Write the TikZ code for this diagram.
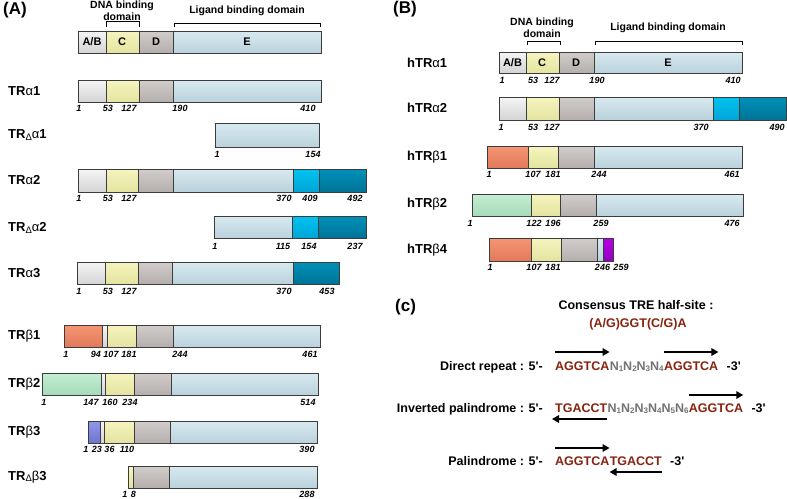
\documentclass[tikz,border=0pt]{standalone}
\usepackage{fontspec}
\setmainfont{Liberation Sans}
\usetikzlibrary{arrows.meta}
\definecolor{seqred}{RGB}{135,35,15}
\definecolor{edgec}{RGB}{60,60,60}
\newcommand\bseg[5]{\draw[#1] (#2,#4) rectangle (#3,#5);}
\newcommand\nlab[3]{\node[numlab] at (#1,#2) {#3};}
\newcommand\gr[1]{{\mdseries #1}}
\newcommand\dl{\raisebox{-1.2pt}{\fontsize{9.5}{9.5}\selectfont\mdseries Δ}}
\newcommand\nn[1]{N\raisebox{-1.6pt}{\fontsize{8}{8}\selectfont #1}}
\begin{document}
\begin{tikzpicture}[x=1pt,y=-1pt,
  sg/.style={draw=edgec, line width=0.65pt},
  cAB/.style={sg, top color={rgb,255:red,245;green,245;blue,245}, bottom color={rgb,255:red,212;green,212;blue,212}},
  cC/.style={sg, top color={rgb,255:red,244;green,244;blue,190}, bottom color={rgb,255:red,228;green,228;blue,160}},
  cD/.style={sg, top color={rgb,255:red,210;green,204;blue,202}, bottom color={rgb,255:red,180;green,174;blue,172}},
  cE/.style={sg, top color={rgb,255:red,216;green,233;blue,240}, bottom color={rgb,255:red,186;green,210;blue,220}},
  cCy/.style={sg, top color={rgb,255:red,0;green,195;blue,240}, bottom color={rgb,255:red,0;green,165;blue,215}},
  cTe/.style={sg, top color={rgb,255:red,0;green,145;blue,185}, bottom color={rgb,255:red,0;green,115;blue,150}},
  cSa/.style={sg, top color={rgb,255:red,245;green,150;blue,115}, bottom color={rgb,255:red,225;green,120;blue,90}},
  cGr/.style={sg, top color={rgb,255:red,195;green,238;blue,210}, bottom color={rgb,255:red,165;green,218;blue,185}},
  cVi/.style={sg, top color={rgb,255:red,145;green,150;blue,235}, bottom color={rgb,255:red,110;green,118;blue,210}},
  cPu/.style={sg, top color={rgb,255:red,185;green,0;blue,230}, bottom color={rgb,255:red,145;green,0;blue,195}},
  numlab/.style={inner sep=0, font=\fontsize{9}{10}\selectfont\bfseries\itshape},
  isolab/.style={inner sep=0, anchor=west, font=\fontsize{13}{15}\selectfont\bfseries},
  seglab/.style={inner sep=0, font=\fontsize{11}{12}\selectfont\bfseries},
  domlab/.style={inner sep=0, align=center, font=\fontsize{10.5}{11.5}\selectfont\bfseries},
  panlab/.style={inner sep=0, anchor=west, font=\fontsize{17}{18}\selectfont\bfseries},
  brk/.style={line width=0.8pt, draw=black},
  txt/.style={inner sep=0, font=\fontsize{12.5}{14}\selectfont\bfseries},
  seq/.style={inner sep=0, anchor=base west, font=\fontsize{12.5}{14}\selectfont\bfseries, text=seqred},
  nseq/.style={inner sep=0, anchor=base west, font=\fontsize{12.5}{14}\selectfont\bfseries, text=black!55},
  arr/.style={line width=1.7pt, -{Triangle[length=7pt,width=7.5pt]}}
]
\useasboundingbox (0,0) rectangle (787,498);
\fill[white] (0,0) rectangle (787,498);

% ================= Panel A =================
\node[panlab] (pA) at (3,10) {(A)};
\node[domlab] (dnaA) at (122,10.5) {DNA binding\\domain};
\node[domlab] (lbdA) at (247,11) {Ligand binding domain};
\draw[brk] (106,27) -- (106,21) -- (139,21) -- (139,27);
\draw[brk] (174,27) -- (174,23) -- (320,23) -- (320,27);

% header
\bseg{cAB}{78}{106}{31}{53}\bseg{cC}{106}{139}{31}{53}\bseg{cD}{139}{173}{31}{53}\bseg{cE}{173}{321}{31}{53}
\node[seglab] (hAB) at (92,42) {A/B};
\node[seglab] (hC) at (122,42) {C};
\node[seglab] (hD) at (156,42) {D};
\node[seglab] (hE) at (247,42) {E};

% TRa1
\node[isolab] (ta1) at (8,91) {TR\gr{α}1};
\bseg{cAB}{78}{106}{80}{102}\bseg{cC}{106}{139}{80}{102}\bseg{cD}{139}{173}{80}{102}\bseg{cE}{173}{321}{80}{102}
\nlab{79}{108}{1}\nlab{108}{108}{53}\nlab{129}{108}{127}\nlab{180}{108}{190}\nlab{308}{108}{410}

% TRDa1
\node[isolab] (tda1) at (8,135) {TR\dl\gr{α}1};
\bseg{cE}{215}{319}{123}{147}
\nlab{217}{154.5}{1}\nlab{313}{154.5}{154}

% TRa2
\node[isolab] (ta2) at (8,180) {TR\gr{α}2};
\bseg{cAB}{78}{106}{169}{192}\bseg{cC}{106}{138}{169}{192}\bseg{cD}{138}{173}{169}{192}\bseg{cE}{173}{293}{169}{192}\bseg{cCy}{293}{319}{169}{192}\bseg{cTe}{319}{366}{169}{192}
\nlab{79}{198}{1}\nlab{108}{198}{53}\nlab{129}{198}{127}\nlab{284}{198}{370}\nlab{310}{198}{409}\nlab{355}{198}{492}

% TRDa2
\node[isolab] (tda2) at (8,228) {TR\dl\gr{α}2};
\bseg{cE}{214}{292}{216}{238}\bseg{cCy}{292}{318}{216}{238}\bseg{cTe}{318}{366}{216}{238}
\nlab{215}{246}{1}\nlab{283}{246}{115}\nlab{309}{246}{154}\nlab{355}{246}{237}

% TRa3
\node[isolab] (ta3) at (8,273) {TR\gr{α}3};
\bseg{cAB}{77}{105}{262}{284}\bseg{cC}{105}{138}{262}{284}\bseg{cD}{138}{172}{262}{284}\bseg{cE}{172}{293}{262}{284}\bseg{cTe}{293}{339}{262}{284}
\nlab{79}{291}{1}\nlab{108}{291}{53}\nlab{129}{291}{127}\nlab{284}{291}{370}\nlab{327}{291}{453}

% TRb1
\node[isolab] (tb1) at (8,336) {TR\gr{β}1};
\bseg{cSa}{64}{102}{325}{347}\bseg{cAB}{102}{107}{325}{347}\bseg{cC}{107}{136}{325}{347}\bseg{cD}{136}{173}{325}{347}\bseg{cE}{173}{320}{325}{347}
\nlab{66}{354}{1}\nlab{96}{354}{94}\nlab{111}{354}{107}\nlab{129}{354}{181}\nlab{180}{354}{244}\nlab{310}{354}{461}

% TRb2
\node[isolab] (tb2) at (8,384) {TR\gr{β}2};
\bseg{cGr}{42}{101}{373}{395}\bseg{cAB}{101}{105}{373}{395}\bseg{cC}{105}{134}{373}{395}\bseg{cD}{134}{171}{373}{395}\bseg{cE}{171}{318}{373}{395}
\nlab{44}{402}{1}\nlab{91}{402}{147}\nlab{110}{402}{160}\nlab{130}{402}{234}\nlab{308}{402}{514}

% TRb3
\node[isolab] (tb3) at (8,432) {TR\gr{β}3};
\bseg{cVi}{88}{100}{421}{443}\bseg{cAB}{100}{104}{421}{443}\bseg{cC}{104}{134}{421}{443}\bseg{cD}{134}{170}{421}{443}\bseg{cE}{170}{317}{421}{443}
\nlab{86}{449.5}{1}\nlab{97}{449.5}{23}\nlab{109.5}{449.5}{36}\nlab{127}{449.5}{110}\nlab{307}{449.5}{390}

% TRDb3
\node[isolab] (tdb3) at (8,477) {TR\dl\gr{β}3};
\bseg{cC}{128}{133}{466}{488}\bseg{cD}{133}{169}{466}{488}\bseg{cE}{169}{317}{466}{488}
\nlab{125}{494}{1}\nlab{133.5}{494}{8}\nlab{307}{494}{288}

% ================= Panel B =================
\node[panlab] (pB) at (393,9) {(B)};
\node[domlab] (dnaB) at (542,27.5) {DNA binding\\domain};
\node[domlab] (lbdB) at (668,28) {Ligand binding domain};
\draw[brk] (527,44.5) -- (527,41) -- (560,41) -- (560,44.5);
\draw[brk] (595,44.5) -- (595,41) -- (742,41) -- (742,44.5);

% hTRa1
\node[isolab] (hta1) at (407,63) {hTR\gr{α}1};
\bseg{cAB}{499}{526}{52}{73}\bseg{cC}{526}{559}{52}{73}\bseg{cD}{559}{594}{52}{73}\bseg{cE}{594}{742}{52}{73}
\node[seglab] (bAB) at (512.5,62.5) {A/B};
\node[seglab] (bC) at (542,62.5) {C};
\node[seglab] (bD) at (576,62.5) {D};
\node[seglab] (bE) at (668,62.5) {E};
\nlab{502}{80}{1}\nlab{533}{80}{53}\nlab{552}{80}{127}\nlab{597}{80}{190}\nlab{733}{80}{410}

% hTRa2
\node[isolab] (hta2) at (407,108) {hTR\gr{α}2};
\bseg{cAB}{499}{526}{97}{120}\bseg{cC}{526}{559}{97}{120}\bseg{cD}{559}{594}{97}{120}\bseg{cE}{594}{713}{97}{120}\bseg{cCy}{713}{739}{97}{120}\bseg{cTe}{739}{786}{97}{120}
\nlab{501}{127}{1}\nlab{533}{127}{53}\nlab{552}{127}{127}\nlab{701}{127}{370}\nlab{777}{127}{490}

% hTRb1
\node[isolab] (htb1) at (407,157) {hTR\gr{β}1};
\bseg{cSa}{487}{528}{146}{168}\bseg{cC}{528}{558}{146}{168}\bseg{cD}{558}{594}{146}{168}\bseg{cE}{594}{742}{146}{168}
\nlab{489}{174.5}{1}\nlab{533}{174.5}{107}\nlab{553}{174.5}{181}\nlab{599}{174.5}{244}\nlab{732}{174.5}{461}

% hTRb2
\node[isolab] (htb2) at (407,204) {hTR\gr{β}2};
\bseg{cGr}{472}{531}{194}{216}\bseg{cC}{531}{560}{194}{216}\bseg{cD}{560}{596}{194}{216}\bseg{cE}{596}{743}{194}{216}
\nlab{470}{223}{1}\nlab{534}{223}{122}\nlab{553}{223}{196}\nlab{601}{223}{259}\nlab{732}{223}{476}

% hTRb4
\node[isolab] (htb4) at (407,250) {hTR\gr{β}4};
\bseg{cSa}{489}{531}{238}{261}\bseg{cC}{531}{561}{238}{261}\bseg{cD}{561}{597}{238}{261}\bseg{cE}{597}{603}{238}{261}\bseg{cPu}{603}{613}{238}{261}
\nlab{490}{267.5}{1}\nlab{534}{267.5}{107}\nlab{553}{267.5}{181}\nlab{602.5}{267.5}{246}\nlab{621}{267.5}{259}

% ================= Panel C =================
\node[panlab] (pC) at (395,307) {(c)};
\node[txt] (cons) at (636,305) {Consensus TRE half-site :};
\node[txt, text=seqred] (consq) at (638,324) {(A/G)GGT(C/G)A};

% Direct repeat
\node[txt, anchor=base east] (drl) at (543,370) {Direct repeat : 5\textquotesingle-};
\node[seq] (dr1) at (555,370) {AGGTCA};
\node[nseq] (drn) at (dr1.base east) {\nn{1}\nn{2}\nn{3}\nn{4}};
\node[seq] (dr2) at (drn.base east) {AGGTCA};
\node[txt, anchor=base west] (dr3) at ([xshift=8pt]dr2.base east) {-3\textquotesingle};
\draw[arr] ([yshift=18pt]dr1.base west) -- ([yshift=18pt]dr1.base east);
\draw[arr] ([yshift=18pt]dr2.base west) -- ([yshift=18pt]dr2.base east);

% Inverted palindrome
\node[txt, anchor=base east] (ipl) at (543,412) {Inverted palindrome : 5\textquotesingle-};
\node[seq] (ip1) at (555,412) {TGACCT};
\node[nseq] (ipn) at (ip1.base east) {\nn{1}\nn{2}\nn{3}\nn{4}\nn{5}\nn{6}};
\node[seq] (ip2) at (ipn.base east) {AGGTCA};
\node[txt, anchor=base west] (ip3) at ([xshift=8pt]ip2.base east) {-3\textquotesingle};
\draw[arr] ([yshift=17pt]ip2.base west) -- ([yshift=17pt]ip2.base east);
\draw[arr] ([yshift=-7pt]ip1.base east) -- ([yshift=-7pt,xshift=-3pt]ip1.base west);

% Palindrome
\node[txt, anchor=base east] (pal) at (543,465) {Palindrome : 5\textquotesingle-};
\node[seq] (pa1) at (555,465) {AGGTCA};
\node[seq] (pa2) at (pa1.base east) {TGACCT};
\node[txt, anchor=base west] (pa3) at ([xshift=8pt]pa2.base east) {-3\textquotesingle};
\draw[arr] ([yshift=17pt]pa1.base west) -- ([yshift=17pt]pa1.base east);
\draw[arr] ([yshift=-7pt]pa2.base east) -- ([yshift=-7pt]pa2.base west);
\end{tikzpicture}
\end{document}
